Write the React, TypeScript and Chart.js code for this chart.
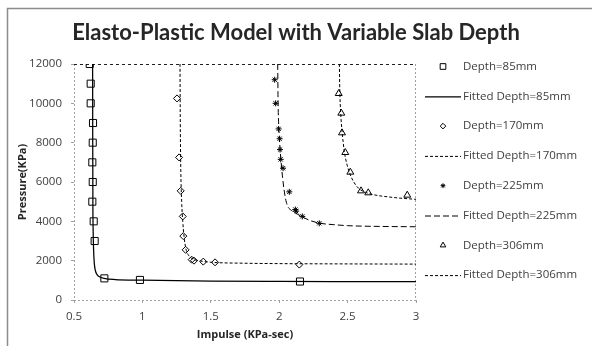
import React, { useEffect, useRef } from 'react';
import { Chart, registerables } from 'chart.js';
import { drawPoint } from 'chart.js/helpers';

Chart.register(...registerables);

const titleText = 'Elasto-Plastic Model with Variable Slab Depth';
const xTitle = 'Impulse (KPa-sec)';
const yTitle = 'Pressure(KPa)';

const xTickValues = [0.5, 1, 1.5, 2, 2.5, 3];
const xTickLabels = ['0.5', '1', '1.5', '2', '2.5', '3'];
const yTickValues = [0, 2000, 4000, 6000, 8000, 10000, 12000];
const yTickLabels = ['0', '2000', '4000', '6000', '8000', '10000', '12000'];

const seriesNames = [
  'Depth=85mm', 'Fitted Depth=85mm',
  'Depth=170mm', 'Fitted Depth=170mm',
  'Depth=225mm', 'Fitted Depth=225mm',
  'Depth=306mm', 'Fitted Depth=306mm',
];

// measured points
const d85I = [0.615, 0.622, 0.622, 0.639, 0.637, 0.634, 0.637, 0.634, 0.644, 0.651, 0.722, 0.982, 2.152];
const d85P = [12000, 11000, 10000, 9000, 8000, 7000, 6000, 5000, 4000, 3000, 1100, 1020, 940];

const d170I = [1.253, 1.268, 1.28, 1.295, 1.299, 1.316, 1.36, 1.377, 1.445, 1.531, 2.147];
const d170P = [10250, 7250, 5550, 4250, 3250, 2550, 2050, 2000, 1950, 1915, 1800];

const d225I = [1.967, 1.974, 1.996, 2.003, 2.006, 2.011, 2.028, 2.074, 2.118, 2.124, 2.169, 2.293];
const d225P = [11200, 10000, 8700, 8200, 7650, 7150, 6700, 5500, 4600, 4520, 4250, 3900];

const d306I = [2.435, 2.454, 2.459, 2.483, 2.52, 2.598, 2.651, 2.936];
const d306P = [10500, 9500, 8500, 7500, 6500, 5550, 5450, 5330];

// fitted curves
const f85I = [0.636, 0.637, 0.638, 0.64, 0.643, 0.648, 0.656, 0.67, 0.69, 0.72, 0.8, 1.0, 1.5, 2.0, 2.5, 3.0];
const f85P = [12000, 8000, 5000, 3500, 2600, 1900, 1500, 1280, 1170, 1100, 1040, 1010, 965, 945, 935, 930];

const f170I = [1.275, 1.277, 1.281, 1.287, 1.295, 1.305, 1.318, 1.34, 1.37, 1.42, 1.5, 1.75, 2.0, 2.5, 3.0];
const f170P = [12000, 9000, 6500, 5000, 4000, 3200, 2600, 2250, 2080, 1990, 1920, 1870, 1850, 1835, 1825];

const f225I = [1.989, 1.992, 1.997, 2.005, 2.013, 2.025, 2.045, 2.06, 2.09, 2.12, 2.165, 2.23, 2.3, 2.4, 2.5, 2.75, 3.0];
const f225P = [12000, 10000, 8800, 7800, 7100, 6200, 5200, 4800, 4550, 4420, 4240, 4030, 3900, 3830, 3780, 3740, 3725];

const f306I = [2.44, 2.442, 2.446, 2.452, 2.462, 2.475, 2.495, 2.518, 2.545, 2.58, 2.63, 2.7, 2.8, 2.9, 3.0];
const f306P = [12000, 11000, 10000, 9200, 8400, 7600, 6900, 6400, 6000, 5680, 5480, 5340, 5240, 5170, 5120];

const zip = (xs: number[], ys: number[]) => xs.map((x, i) => ({ x, y: ys[i] }));

const FONT = '"Open Sans", sans-serif';
const TEXT = '#404040';

const markerDs = (label: string, xs: number[], ys: number[], style: string, r: number) => ({
  label,
  data: zip(xs, ys),
  showLine: false,
  pointStyle: style,
  pointRadius: r,
  pointBorderColor: '#000',
  pointBackgroundColor: 'rgba(0,0,0,0)',
  pointBorderWidth: 1,
  borderColor: '#000',
  backgroundColor: 'rgba(0,0,0,0)',
  legendRadius: r * 0.8,
  yAxisID: 'y',
});

const lineDs = (label: string, xs: number[], ys: number[], dash: number[], w: number) => ({
  label,
  data: zip(xs, ys),
  showLine: true,
  pointRadius: 0,
  borderColor: '#000',
  borderWidth: w,
  borderDash: dash,
  cubicInterpolationMode: 'monotone',
  fill: false,
  yAxisID: 'y',
});

const bgPlugin = {
  id: 'bgFrame',
  beforeDatasetsDraw(chart: any) {
    const { left, right, top, bottom } = chart.chartArea;
    const ctx = chart.ctx;
    ctx.save();
    ctx.lineWidth = 1;
    ctx.strokeStyle = '#a0a0a0';
    ctx.setLineDash([2, 2]);
    ctx.beginPath();
    ctx.moveTo(left + 0.5, top);
    ctx.lineTo(left + 0.5, bottom);
    ctx.moveTo(left, bottom + 0.5);
    ctx.lineTo(right, bottom + 0.5);
    ctx.moveTo(right - 0.5, top);
    ctx.lineTo(right - 0.5, bottom);
    ctx.stroke();
    ctx.strokeStyle = '#202020';
    ctx.setLineDash([3, 3]);
    ctx.beginPath();
    ctx.moveTo(left, top + 0.5);
    ctx.lineTo(right, top + 0.5);
    ctx.stroke();
    ctx.restore();
  },
  afterDraw(chart: any) {
    const ctx = chart.ctx;
    ctx.save();
    ctx.setLineDash([]);
    ctx.strokeStyle = '#8c8c8c';
    ctx.lineWidth = 1.5;
    ctx.beginPath();
    ctx.moveTo(7.5, chart.height);
    ctx.lineTo(7.5, 8.5);
    ctx.lineTo(chart.width, 8.5);
    ctx.stroke();
    ctx.restore();
  },
};

const legendPlugin = {
  id: 'sideLegend',
  afterDraw(chart: any) {
    const ctx = chart.ctx;
    const { right, top } = chart.chartArea;
    const x0 = right + 9;
    const lineW = 36;
    const y0 = top + 2.5;
    const step = 29.8;
    ctx.save();
    chart.data.datasets.forEach((ds: any, i: number) => {
      const y = y0 + i * step;
      ctx.strokeStyle = '#000';
      ctx.fillStyle = 'rgba(0,0,0,0)';
      ctx.lineWidth = 1;
      if (ds.showLine) {
        ctx.setLineDash(ds.borderDash || []);
        ctx.lineWidth = ds.borderWidth;
        ctx.beginPath();
        ctx.moveTo(x0, y + 0.5);
        ctx.lineTo(x0 + lineW, y + 0.5);
        ctx.stroke();
      } else {
        ctx.setLineDash([]);
        drawPoint(ctx, { pointStyle: ds.pointStyle, radius: ds.legendRadius, rotation: 0, borderWidth: 1 }, x0 + lineW / 2, y);
      }
      ctx.setLineDash([]);
      ctx.fillStyle = TEXT;
      ctx.font = '11.5px ' + FONT;
      ctx.textAlign = 'left';
      ctx.textBaseline = 'middle';
      ctx.fillText(ds.label, x0 + lineW + 2, y);
    });
    ctx.restore();
  },
};

export default function App() {
  const ref = useRef<HTMLCanvasElement | null>(null);

  useEffect(() => {
    if (!ref.current) return;
    const chart = new Chart(ref.current, {
      type: 'scatter',
      data: {
        datasets: [
          markerDs(seriesNames[0], d85I, d85P, 'rect', 5),
          lineDs(seriesNames[1], f85I, f85P, [], 1.25),
          markerDs(seriesNames[2], d170I, d170P, 'rectRot', 3.5),
          lineDs(seriesNames[3], f170I, f170P, [3, 2], 1),
          markerDs(seriesNames[4], d225I, d225P, 'star', 3),
          lineDs(seriesNames[5], f225I, f225P, [6, 3], 1),
          markerDs(seriesNames[6], d306I, d306P, 'triangle', 4),
          lineDs(seriesNames[7], f306I, f306P, [3, 2], 1),
        ] as any,
      },
      options: {
        responsive: false,
        devicePixelRatio: 1,
        animation: false,
        layout: { padding: { left: 0, right: 0, top: 0, bottom: 0 } },
        plugins: {
          legend: { display: false },
          tooltip: { enabled: false },
          title: {
            display: true,
            text: titleText,
            color: '#262626',
            font: { family: 'Lato, sans-serif', size: 22, weight: 'bold' },
            padding: { top: 20, bottom: 17.6 },
          },
        },
        scales: {
          x: {
            type: 'linear',
            min: 0.5,
            max: 3,
            afterBuildTicks: (s: any) => { s.ticks = xTickValues.map((v) => ({ value: v })); },
            afterFit: (s: any) => { s.height = 46; },
            grid: { display: true, drawOnChartArea: false, drawTicks: true, tickLength: 3, color: '#a0a0a0' },
            border: { display: false },
            ticks: {
              padding: 7,
              color: TEXT,
              font: { family: FONT, size: 11.5 },
              maxRotation: 0,
              autoSkip: false,
              callback: (_v: any, i: number) => xTickLabels[i],
            },
            title: {
              display: true,
              text: xTitle,
              color: '#262626',
              font: { family: FONT, size: 11, weight: 'bold' },
              padding: { top: 0, bottom: 5 },
            },
          },
          y: {
            type: 'linear',
            position: 'left',
            min: 0,
            max: 12000,
            afterBuildTicks: (s: any) => { s.ticks = yTickValues.map((v) => ({ value: v })); },
            afterFit: (s: any) => { s.width = 74; },
            grid: { display: true, drawOnChartArea: false, drawTicks: true, tickLength: 3, color: '#a0a0a0' },
            border: { display: false },
            ticks: {
              padding: 9,
              color: TEXT,
              font: { family: FONT, size: 11.5 },
              autoSkip: false,
              callback: (_v: any, i: number) => yTickLabels[i],
            },
            title: {
              display: true,
              text: yTitle,
              color: '#262626',
              font: { family: FONT, size: 11, weight: 'bold' },
              padding: { top: 16, bottom: 0 },
            },
          },
          legendSpace: {
            type: 'linear',
            position: 'right',
            display: true,
            min: 0,
            max: 1,
            afterFit: (s: any) => { s.width = 176; },
            grid: { display: false },
            border: { display: false },
            ticks: { display: false },
          },
        },
      },
      plugins: [bgPlugin, legendPlugin],
    } as any);
    return () => chart.destroy();
  }, []);

  return (
    <div style={{ position: 'fixed', left: 0, top: 0, width: 592, height: 346, background: '#fff', overflow: 'hidden' }}>
      <canvas ref={ref} width={592} height={346} style={{ display: 'block', width: 592, height: 346 }} />
    </div>
  );
}
